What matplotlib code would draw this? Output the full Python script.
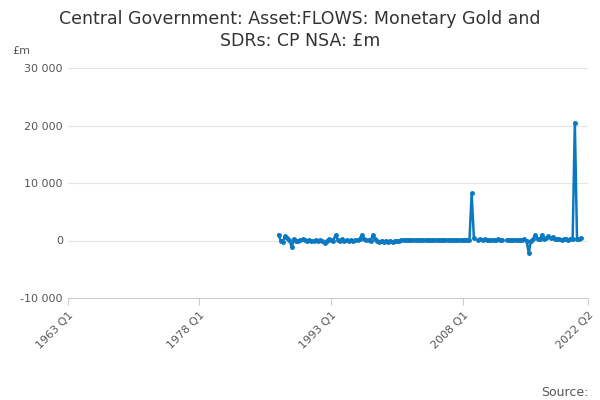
import numpy as np
import matplotlib
matplotlib.use("Agg")
import matplotlib.pyplot as plt

start_year, start_q = 1963, 1
n_quarters = 238  # 1963 Q1 .. 2022 Q2

# values in £m, quarterly from 1987 Q1 (NaN = no data)
nan = np.nan
values = [
    1000, 0, -200, 800,        # 1987
    400, 100, -1200, 300,      # 1988
    -100, 0, 100, 200,         # 1989
    100, 0, 50, -50,           # 1990
    0, 100, 0, 50,             # 1991
    0, -400, 0, 200,           # 1992
    100, 0, 1000, 100,         # 1993
    0, 200, 0, 100,            # 1994
    0, 100, 0, 50,             # 1995
    100, 300, 1000, 200,       # 1996
    100, 100, 0, 1000,         # 1997
    200, 0, -200, 0,           # 1998
    -200, 0, -200, 0,          # 1999
    -200, 0, -100, 0,          # 2000
    100, 100, 100, 100,        # 2001
    100, 100, 100, 100,        # 2002
    100, 100, 100, 100,        # 2003
    100, 100, 100, 100,        # 2004
    100, 100, 100, 100,        # 2005
    100, 100, 100, 100,        # 2006
    100, 100, 100, 100,        # 2007
    100, 100, 100, 100,        # 2008
    8200, 500, nan, 100,       # 2009
    200, 100, 200, 100,        # 2010
    150, 100, 100, 100,        # 2011
    200, 100, 100, nan,        # 2012
    100, 100, 100, 100,        # 2013
    100, 100, 100, 100,        # 2014
    200, 0, -2200, 0,          # 2015
    200, 1000, 300, 200,       # 2016
    1000, 300, 400, 700,       # 2017
    400, 600, 200, 300,        # 2018
    200, 100, 300, 200,        # 2019
    100, 300, 200, 20500,      # 2020
    200, 300, 500,             # 2021
]
first_index = (1987 - start_year) * 4
x = np.arange(first_index, first_index + len(values))
y = np.array(values, dtype=float)

tick_pos = [0, 60, 120, 180, 237]
tick_labels = ["1963 Q1", "1978 Q1", "1993 Q1", "2008 Q1", "2022 Q2"]

fig = plt.figure(figsize=(6, 4), dpi=100)
ax = fig.add_axes([0.113, 0.255, 0.867, 0.575])
color = "#0b79c1"
ax.plot(x, y, color=color, lw=1.8, marker="o", ms=2.5,
        label="Central Government: Asset:FLOWS: Monetary Gold and SDRs: CP NSA: £m")
ax.set_xlim(0, n_quarters - 1)
ax.set_ylim(-10000, 30000)
ax.set_yticks([-10000, 0, 10000, 20000, 30000])
ax.set_yticklabels(["-10 000", "0", "10 000", "20 000", "30 000"])
ax.set_xticks(tick_pos)
ax.set_xticklabels(tick_labels, rotation=45, ha="right", rotation_mode="anchor")
ax.tick_params(axis="both", labelsize=8, colors="#555555", length=0)
ax.tick_params(axis="x", length=5, color="#cccccc")
ax.grid(axis="y", color="#e6e6e6", lw=0.8)
for s in ["top", "right", "left"]:
    ax.spines[s].set_visible(False)
ax.spines["bottom"].set_color("#cccccc")

fig.text(0.5, 0.975, "Central Government: Asset:FLOWS: Monetary Gold and\nSDRs: CP NSA: £m",
         ha="center", va="top", fontsize=12.5, color="#333333", linespacing=1.3)
fig.text(0.02, 0.865, "£m", fontsize=8, color="#555555")
ax.legend(loc="center", bbox_to_anchor=(0.45, -0.5), frameon=False,
          handlelength=1.5, handletextpad=0.4, prop={"weight": "bold", "size": 8.3})
fig.text(0.98, 0.01, "Source:", ha="right", fontsize=9, color="#555555")

fig.savefig("out.png", dpi=100)
